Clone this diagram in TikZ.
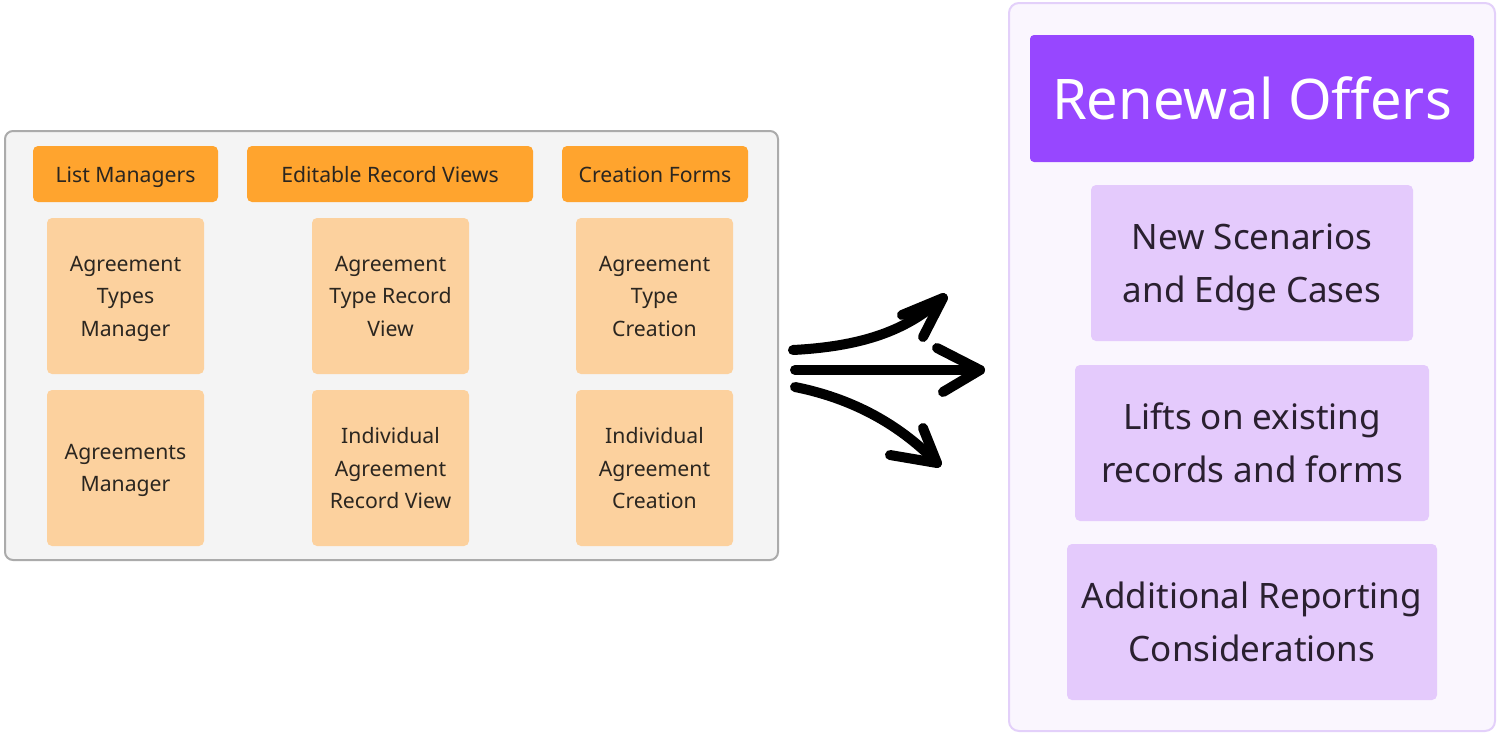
\documentclass[tikz,border=0pt]{standalone}
\usepackage{fontspec}
\setmainfont{Noto Sans}
\begin{document}
\begin{tikzpicture}[x=0.5pt,y=-0.5pt,
  hdr/.style={draw=none,fill=hdrorange,rounded corners=2.5pt,text=txtdark,font=\fontsize{10.6}{13}\selectfont,inner sep=0pt,minimum height=28pt,execute at begin node={\rule{0pt}{12.1pt}\rule[-3.9pt]{0pt}{3.9pt}}},
  itembox/.style={draw=none,fill=lightorange,rounded corners=2.5pt,text=txtdark,font=\fontsize{10.6}{16.2}\selectfont,align=center,inner sep=0pt,minimum width=78.5pt,minimum height=78pt,text depth=-0.6pt},
  pbox/.style={draw=none,fill=lightpurple,rounded corners=2.5pt,text=ptxt,font=\fontsize{17.5}{26.5}\selectfont,align=center,inner sep=0pt,minimum height=78pt,text depth=-1.3pt},
  sketch/.style={line width=5pt,line cap=round,line join=round,draw=black}
]
\definecolor{hdrorange}{HTML}{FFA42E}
\definecolor{lightorange}{HTML}{FCD19E}
\definecolor{txtdark}{HTML}{2B2620}
\definecolor{graybg}{HTML}{F4F4F4}
\definecolor{grayline}{HTML}{ABABAB}
\definecolor{purplebg}{HTML}{FAF6FE}
\definecolor{purpleline}{HTML}{E3D0FA}
\definecolor{titlepurple}{HTML}{9747FF}
\definecolor{lightpurple}{HTML}{E4CAFC}
\definecolor{ptxt}{HTML}{2A2030}
\useasboundingbox (0,0) rectangle (1500,734);
\fill[white] (0,0) rectangle (1500,734);
% left container
\node[draw=grayline,line width=1pt,fill=graybg,rounded corners=4pt,minimum width=386.5pt,minimum height=214.5pt,inner sep=0pt] (left) at (391.5,345.5) {};
\node[hdr,minimum width=92.5pt] (lm) at (125.5,174) {List Managers};
\node[hdr,minimum width=143pt] (erv) at (390,174) {Editable Record Views};
\node[hdr,minimum width=93pt] (cf) at (655,174) {Creation Forms};
\node[itembox] (a1) at (125.5,296) {Agreement\\Types\\Manager};
\node[itembox] (a2) at (125.5,468) {Agreements\\Manager};
\node[itembox] (b1) at (390.5,296) {Agreement\\Type Record\\View};
\node[itembox] (b2) at (390.5,468) {Individual\\Agreement\\Record View};
\node[itembox] (c1) at (654.5,296) {Agreement\\Type\\Creation};
\node[itembox] (c2) at (654.5,468) {Individual\\Agreement\\Creation};
% right container
\node[draw=purpleline,line width=1pt,fill=purplebg,rounded corners=5pt,minimum width=243pt,minimum height=364pt,inner sep=0pt] (right) at (1252,367) {};
\node[fill=titlepurple,rounded corners=2pt,text=white,font=\fontsize{28}{34}\selectfont,minimum width=222pt,minimum height=63.5pt,inner sep=0pt] (title) at (1252,98.5) {Renewal Offers};
\node[pbox,minimum width=161pt] (p1) at (1252,263) {New Scenarios\\and Edge Cases};
\node[pbox,minimum width=177pt] (p2) at (1252,443) {Lifts on existing\\records and forms};
\node[pbox,minimum width=185pt] (p3) at (1252,622) {Additional Reporting\\Considerations};
% sketchy arrows
\coordinate (s1) at (793,350);
\coordinate (t1) at (943,298);
\coordinate (s2) at (795,370);
\coordinate (t2) at (980,370);
\coordinate (s3) at (795,387);
\coordinate (t3) at (937,463);
\draw[sketch] (s1) .. controls (870,346) and (910,327) .. (t1);
\draw[sketch] (902,315) -- (t1) -- (923,337);
\draw[sketch] (s2) -- (t2);
\draw[sketch] (937,348) -- (t2) -- (943,392);
\draw[sketch] (s3) .. controls (860,400) and (905,430) .. (t3);
\draw[sketch] (890,455) -- (t3) -- (923,428);
\end{tikzpicture}
\end{document}
